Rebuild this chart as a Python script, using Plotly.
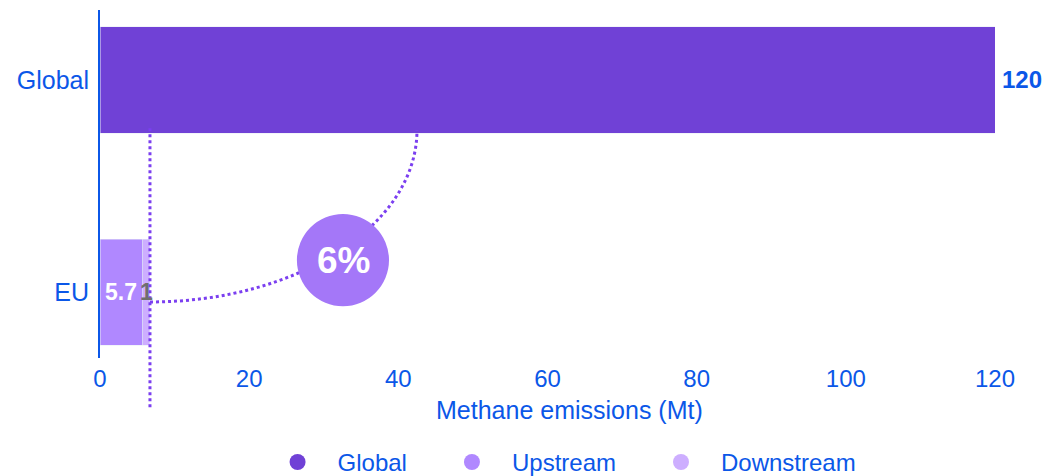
import plotly.graph_objects as go

# Data
categories = ["EU", "Global"]
global_value = 120
eu_upstream = 5.7
eu_downstream = 1
share_label = "6%"
x_ticks = [0, 20, 40, 60, 80, 100, 120]
legend_names = ["Global", "Upstream", "Downstream"]
x_title = "Methane emissions (Mt)"

C_GLOBAL = "#7041D6"
C_UP = "#B088FF"
C_DOWN = "#CDAEFF"
C_CIRCLE = "#A477F8"
C_DOT = "#7B3FF0"
BLUE = "#0B57E8"
FONT = "Liberation Sans, Arial, sans-serif"
NB = "\u00a0"

fig = go.Figure()
fig.add_trace(go.Bar(y=["Global"], x=[global_value], orientation="h",
                     marker_color=C_GLOBAL, width=0.5, showlegend=False))
fig.add_trace(go.Bar(y=["EU"], x=[eu_upstream], orientation="h",
                     marker_color=C_UP, width=0.5, showlegend=False))
fig.add_trace(go.Bar(y=["EU"], x=[eu_downstream], orientation="h",
                     marker_color=C_DOWN, width=0.5, showlegend=False))

# legend dummies with circle markers
for name, col in zip(legend_names, [C_GLOBAL, C_UP, C_DOWN]):
    fig.add_trace(go.Scatter(x=[None], y=[None], mode="markers",
                             name=NB * 3 + name + NB * 6,
                             marker=dict(symbol="circle", size=18, color=col)))

eu_total = eu_upstream + eu_downstream

# dotted vertical line at EU total
fig.add_shape(type="line", xref="x", yref="paper", x0=eu_total, x1=eu_total,
              y0=0.66, y1=-0.15, line=dict(color=C_DOT, width=3, dash="dot"))

# quarter-ellipse arc
x0a, y0a = eu_total, 0.161
x3a, y3a = 42.5, 0.655
k = 0.5523
p1 = (x0a + k * (x3a - x0a), y0a)
p2 = (x3a, y3a - k * (y3a - y0a))
path = f"M {x0a},{y0a} C {p1[0]},{p1[1]} {p2[0]},{p2[1]} {x3a},{y3a}"
fig.add_shape(type="path", xref="x", yref="paper", path=path,
              line=dict(color=C_DOT, width=3, dash="dot"))

# circle
fig.add_shape(type="circle", xref="x", yref="paper", x0=26.4, x1=38.75,
              y0=0.149, y1=0.414, fillcolor=C_CIRCLE, line=dict(width=0), layer="above")
fig.add_annotation(x=32.6, y=0.2815, xref="x", yref="paper", text=f"<b>{share_label}</b>",
                   showarrow=False, xanchor="center", yanchor="middle",
                   font=dict(color="white", size=37, family=FONT))

# value labels
fig.add_annotation(x=eu_upstream / 2, y="EU", text=f"<b>{eu_upstream}</b>", showarrow=False,
                   xanchor="center", yanchor="middle",
                   font=dict(color="white", size=23, family=FONT))
fig.add_annotation(x=eu_upstream + eu_downstream / 2, y="EU", text=f"<b>{eu_downstream}</b>",
                   showarrow=False, xanchor="center", yanchor="middle",
                   font=dict(color="#6F6F6F", size=23, family=FONT))
fig.add_annotation(x=global_value, y="Global", text=f"<b>{global_value}</b>", showarrow=False,
                   xanchor="left", yanchor="middle", xshift=5,
                   font=dict(color=BLUE, size=24, family=FONT))

# x-axis title
fig.add_annotation(x=0.525, y=-0.149, xref="paper", yref="paper", text=x_title,
                   showarrow=False, xanchor="center", yanchor="middle",
                   font=dict(color=BLUE, size=25, family=FONT))

fig.update_layout(
    width=1047, height=468,
    margin=dict(l=92, r=60, t=2, b=118, autoexpand=False),
    barmode="stack",
    plot_bgcolor="white", paper_bgcolor="white",
    font=dict(family=FONT, color=BLUE, size=24),
    showlegend=True,
    legend=dict(orientation="h", x=0.547, xanchor="center", y=-0.30, yanchor="middle",
                traceorder="normal", font=dict(size=24, color=BLUE)),
    xaxis=dict(range=[0, 120], tickvals=x_ticks, showgrid=False, zeroline=False,
               showline=False, ticks="", tickfont=dict(size=24, color=BLUE), automargin=False,
               ticklabelstandoff=4),
    yaxis=dict(categoryorder="array", categoryarray=categories, range=[-0.311, 1.33],
               showgrid=False, zeroline=False, showline=True, linecolor=BLUE, linewidth=2,
               ticks="", tickfont=dict(size=25, color=BLUE), ticklabelstandoff=4, automargin=False),
)

fig.write_html("out.html")
